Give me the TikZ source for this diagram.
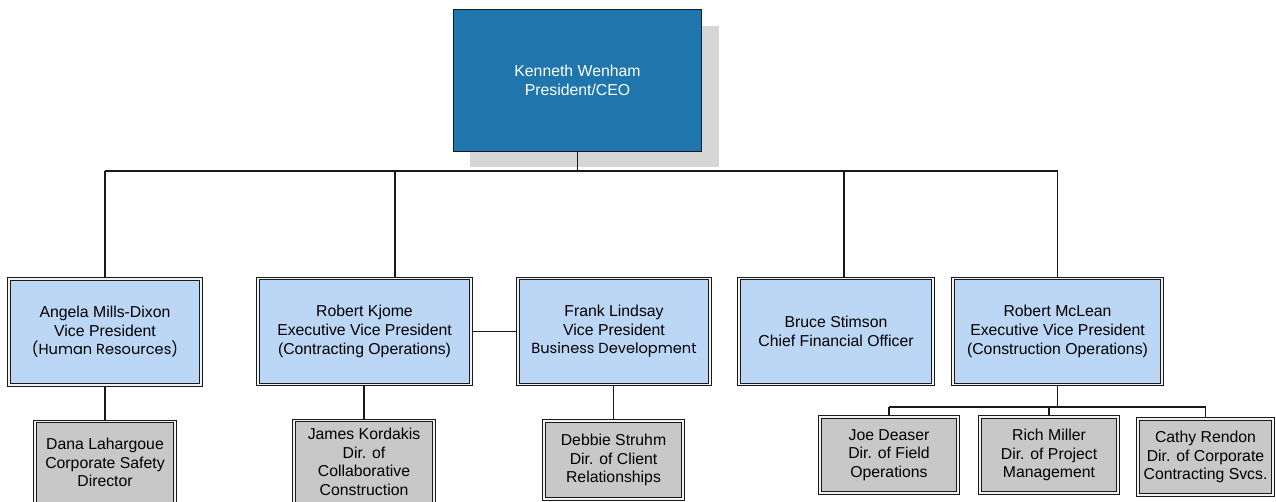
\documentclass[tikz,border=0pt]{standalone}
\usepackage{fontspec}
\setmainfont{Liberation Sans}
\newfontfamily\gothic{Poppins}
\usetikzlibrary{backgrounds,calc}
\definecolor{ceoblue}{RGB}{31,118,172}
\definecolor{vpblue}{RGB}{188,214,245}
\definecolor{dirgray}{RGB}{200,200,200}
\definecolor{shadowgray}{RGB}{214,214,214}
\tikzset{
  box/.style={draw=black!90, line width=1.1pt, double=white!90!gray, double distance=1.4pt,
    align=center, inner sep=0pt, font=\fontsize{15.8}{18.6}\selectfont},
  vpbox/.style={box, fill=vpblue, minimum height=106pt},
  dirbox/.style={box, fill=dirgray, minimum height=78pt},
  ceobox/.style={draw=black!90, line width=1.4pt, fill=ceoblue, text=white, align=center,
    minimum width=248pt, minimum height=142pt, font=\fontsize{15.8}{18.6}\selectfont},
  conn/.style={draw=black!90, line width=1.1pt}
}
\newcommand{\gth}[1]{{\gothic\fontsize{14.6}{18.6}\selectfont #1}}
\begin{document}
\begin{tikzpicture}[x=1pt,y=-1pt]
\useasboundingbox (0,0) rectangle (1276,502);
\clip (0,0) rectangle (1276,502);
% top
\node[ceobox] (ceo) at (577.5,80.5) {Kenneth Wenham\\President/CEO};
\begin{scope}[on background layer]
\fill[shadowgray] ($(ceo.north west)+(17,17)$) rectangle ($(ceo.south east)+(17,15)$);
\end{scope}
% VPs
\node[vpbox, minimum width=192pt] (angela) at (105,332) {Angela Mills-Dixon\\Vice President\\\gth{(Human Resources)}};
\node[vpbox, minimum width=213pt] (kjome) at (364.5,331.5) {Robert Kjome\\Executive Vice President\\(Contracting Operations)};
\node[vpbox, minimum width=192pt] (lindsay) at (614,331.5) {Frank Lindsay\\Vice President\\\gth{Business Development}};
\node[vpbox, minimum width=194pt] (stimson) at (836,331.5) {Bruce Stimson\\Chief Financial Officer};
\node[vpbox, minimum width=209pt] (mclean) at (1057.5,331.5) {Robert McLean\\Executive Vice President\\(Construction Operations)};
% directors
\node[dirbox, minimum width=140pt, minimum height=82pt] (dana) at (105,462.5) {Dana Lahargoue\\Corporate Safety\\Director};
\node[dirbox, minimum width=140pt, minimum height=83pt] (james) at (364,462) {James Kordakis\\Dir. of\\Collaborative\\Construction};
\node[dirbox, minimum width=139pt, minimum height=78pt] (debbie) at (613.5,460) {Debbie Struhm\\Dir. of Client\\Relationships};
\node[dirbox, minimum width=138pt, minimum height=76pt] (joe) at (889,455) {Joe Deaser\\Dir. of Field\\Operations};
\node[dirbox, minimum width=138pt, minimum height=76pt] (rich) at (1049,455) {Rich Miller\\Dir. of Project\\Management};
\node[dirbox, minimum width=135pt, minimum height=76pt] (cathy) at (1205.5,457) {Cathy Rendon\\Dir. of Corporate\\Contracting Svcs.};
% connectors
\coordinate (bus) at (0,171);
\coordinate (kx) at (395,0);
\coordinate (sx) at (844,0);
\coordinate (sub) at (0,407);
\draw[conn] (ceo.south) -- (ceo.south |- bus);
\draw[conn] (angela.north |- bus) -- (mclean.north |- bus);
\draw[conn] (angela.north) -- (angela.north |- bus);
\draw[conn] (kjome.north -| kx) -- (kx |- bus);
\draw[conn] (stimson.north -| sx) -- (sx |- bus);
\draw[conn] (mclean.north) -- (mclean.north |- bus);
\draw[conn] (kjome.east) -- (lindsay.west);
\draw[conn] (angela.south) -- (dana.north);
\draw[conn] (james.north) -- (james.north |- kjome.south);
\draw[conn] (debbie.north) -- (debbie.north |- lindsay.south);
\draw[conn] (mclean.south) -- (mclean.south |- sub);
\draw[conn] (joe.north |- sub) -- (cathy.north |- sub);
\draw[conn] (joe.north) -- (joe.north |- sub);
\draw[conn] (rich.north) -- (rich.north |- sub);
\draw[conn] (cathy.north) -- (cathy.north |- sub);
\end{tikzpicture}
\end{document}
